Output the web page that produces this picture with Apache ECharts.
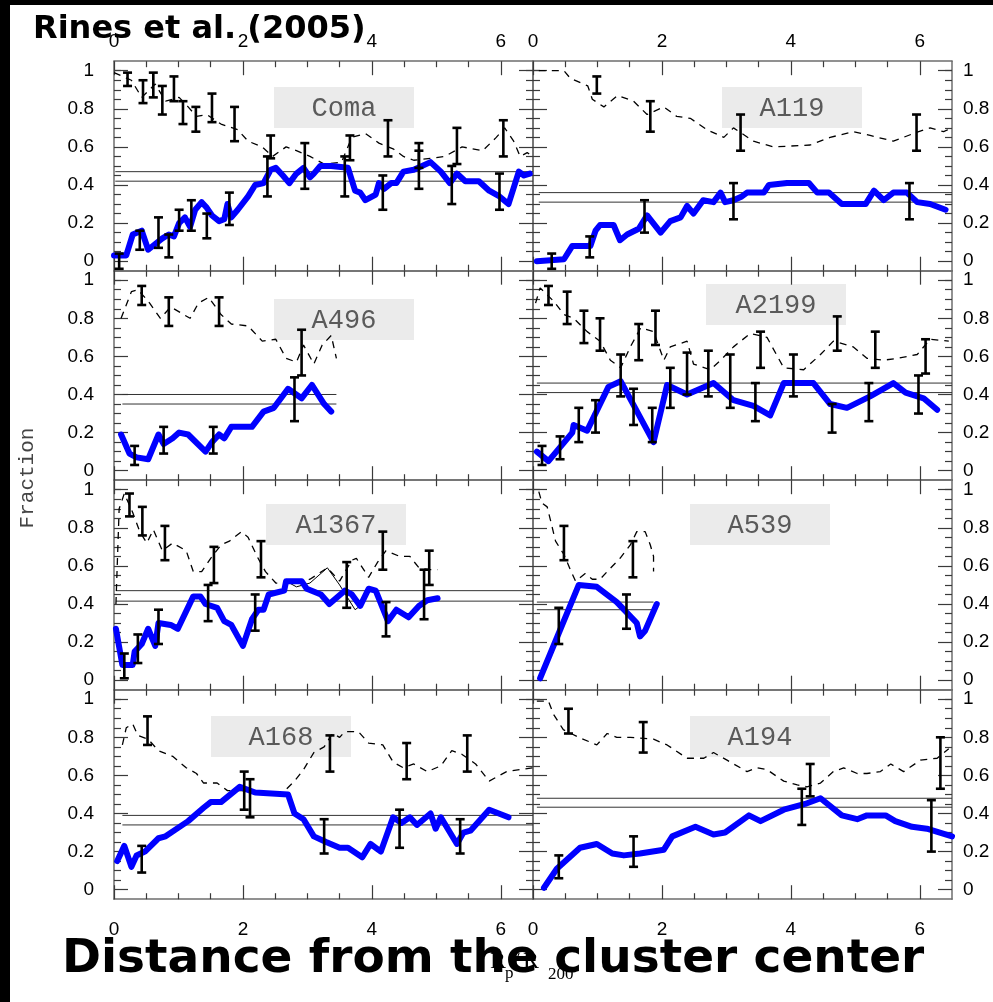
<!DOCTYPE html>
<html>
<head>
<meta charset="utf-8">
<script src="https://cdn.jsdelivr.net/npm/echarts@6/dist/echarts.min.js"></script>
<style>
  html, body { margin: 0; padding: 0; background: #fff; }
  #chart { width: 993px; height: 1002px; }
</style>
</head>
<body>
<div id="chart"></div>
<script>
// tick values
const xMajor = [0, 2, 4, 6]
const xMinor = [0.5, 1, 1.5, 2.5, 3, 3.5, 4.5, 5, 5.5]
const yMajor = [0, 0.2, 0.4, 0.6, 0.8, 1]
const yMinor = [0.05, 0.1, 0.15, 0.25, 0.3, 0.35, 0.45, 0.5, 0.55, 0.65, 0.7, 0.75, 0.85, 0.9, 0.95, 1.0001]

const panelNames = ['Coma', 'A119', 'A496', 'A2199', 'A1367', 'A539', 'A168', 'A194']

// ---- Coma
const comaFrac = [[0.00,0.03],[0.19,0.03],[0.29,0.14],[0.43,0.16],[0.53,0.06],[0.64,0.09],[0.75,0.12],[0.85,0.14],[0.93,0.13],[1.01,0.20],[1.10,0.23],[1.18,0.18],[1.26,0.27],[1.36,0.31],[1.44,0.28],[1.52,0.24],[1.63,0.21],[1.71,0.22],[1.76,0.30],[1.82,0.23],[1.92,0.27],[2.08,0.34],[2.19,0.40],[2.32,0.41],[2.43,0.48],[2.51,0.49],[2.62,0.45],[2.72,0.41],[2.83,0.46],[2.94,0.49],[3.04,0.44],[3.10,0.46],[3.20,0.50],[3.37,0.50],[3.63,0.49],[3.74,0.37],[3.82,0.36],[3.90,0.32],[4.06,0.35],[4.11,0.41],[4.19,0.38],[4.30,0.41],[4.38,0.41],[4.49,0.47],[4.65,0.48],[4.91,0.52],[5.07,0.47],[5.21,0.41],[5.32,0.46],[5.45,0.42],[5.66,0.42],[5.82,0.37],[5.98,0.34],[6.12,0.30],[6.28,0.47],[6.36,0.45],[6.45,0.46]]
const comaDash = [[0.00,0.99],[0.27,0.95],[0.43,0.86],[0.64,0.93],[0.80,0.84],[1.01,0.86],[1.15,0.81],[1.28,0.76],[1.44,0.77],[1.66,0.72],[1.92,0.69],[2.08,0.63],[2.30,0.60],[2.46,0.55],[2.67,0.60],[2.83,0.58],[3.04,0.55],[3.26,0.51],[3.53,0.52],[3.69,0.65],[3.90,0.67],[4.11,0.62],[4.33,0.59],[4.49,0.55],[4.65,0.53],[4.91,0.54],[5.13,0.55],[5.40,0.60],[5.72,0.58],[5.93,0.65],[6.06,0.70],[6.20,0.63],[6.30,0.55],[6.41,0.57],[6.50,0.55]]
const comaDashErr = [[0.21,0.92,0.99],[0.45,0.83,0.95],[0.61,0.86,0.99],[0.75,0.77,0.92],[0.93,0.84,0.97],[1.07,0.72,0.84],[1.27,0.68,0.81],[1.52,0.73,0.88],[1.87,0.63,0.81],[2.43,0.54,0.66],[3.66,0.53,0.66],[4.25,0.55,0.74],[4.73,0.49,0.62],[5.32,0.51,0.70],[6.04,0.55,0.74]]
const comaErr = [[0.08,-0.04,0.04],[0.40,0.06,0.16],[0.69,0.07,0.23],[0.85,0.02,0.14],[1.01,0.16,0.27],[1.20,0.16,0.32],[1.44,0.12,0.25],[1.79,0.19,0.36],[2.38,0.34,0.55],[2.96,0.38,0.62],[3.58,0.34,0.55],[4.17,0.27,0.45],[4.73,0.38,0.58],[5.24,0.30,0.50],[5.98,0.27,0.46]]
const comaRef = [0.47, 0.42]
const comaSpan = [0.02, 6.5]

// ---- A119
const a119Frac = [[0.06,0.00],[0.48,0.01],[0.61,0.08],[0.89,0.08],[0.97,0.16],[1.04,0.19],[1.25,0.19],[1.35,0.11],[1.46,0.14],[1.64,0.17],[1.77,0.24],[1.98,0.15],[2.13,0.21],[2.29,0.23],[2.39,0.29],[2.49,0.25],[2.64,0.32],[2.80,0.31],[2.91,0.36],[2.98,0.31],[3.11,0.32],[3.24,0.34],[3.32,0.36],[3.58,0.36],[3.66,0.40],[3.94,0.41],[4.28,0.41],[4.41,0.36],[4.59,0.36],[4.79,0.30],[5.16,0.30],[5.29,0.37],[5.44,0.32],[5.59,0.36],[5.80,0.36],[5.96,0.31],[6.16,0.30],[6.40,0.27]]
const a119Dash = [[0.09,1.00],[0.48,1.00],[0.58,0.96],[0.85,0.92],[0.92,0.85],[1.10,0.81],[1.31,0.87],[1.56,0.84],[1.77,0.77],[2.03,0.81],[2.23,0.76],[2.44,0.75],[2.70,0.69],[2.96,0.65],[3.11,0.70],[3.42,0.63],[3.73,0.60],[4.30,0.61],[4.61,0.65],[4.97,0.68],[5.23,0.66],[5.59,0.63],[5.90,0.67],[6.16,0.70],[6.37,0.68],[6.50,0.70]]
const a119DashErr = [[0.99,0.88,0.97],[1.82,0.68,0.84],[3.22,0.58,0.77],[5.95,0.58,0.77]]
const a119Err = [[0.29,-0.04,0.04],[0.88,0.02,0.13],[1.73,0.15,0.32],[3.11,0.22,0.41],[5.84,0.22,0.41]]
const a119Ref = [0.36, 0.31]
const a119Span = [0.09, 6.5]

// ---- A496
const a496Frac = [[0.11,0.19],[0.24,0.09],[0.35,0.07],[0.53,0.06],[0.69,0.19],[0.77,0.14],[0.91,0.17],[1.01,0.20],[1.15,0.19],[1.42,0.10],[1.52,0.15],[1.63,0.19],[1.71,0.17],[1.82,0.23],[2.14,0.23],[2.32,0.31],[2.48,0.33],[2.70,0.43],[2.91,0.38],[3.07,0.45],[3.26,0.35],[3.37,0.31]]
const a496Dash = [[0.11,0.80],[0.27,0.94],[0.37,0.95],[0.53,0.89],[0.72,0.80],[0.88,0.86],[1.18,0.80],[1.31,0.88],[1.47,0.91],[1.66,0.82],[1.82,0.77],[2.08,0.76],[2.30,0.68],[2.51,0.69],[2.67,0.59],[2.83,0.57],[2.94,0.66],[3.10,0.56],[3.23,0.66],[3.37,0.71],[3.45,0.59]]
const a496DashErr = [[0.43,0.87,0.97],[0.85,0.76,0.91],[1.63,0.76,0.91],[2.91,0.50,0.74]]
const a496Err = [[0.32,0.03,0.13],[0.77,0.09,0.23],[1.54,0.09,0.23],[2.80,0.26,0.49]]
const a496Ref = [0.40, 0.35]
const a496Span = [0.13, 3.45]

// ---- A2199
const a2199Frac = [[0.06,0.10],[0.24,0.05],[0.61,0.20],[0.63,0.24],[0.84,0.21],[1.17,0.44],[1.36,0.47],[1.87,0.15],[2.08,0.45],[2.39,0.40],[2.80,0.46],[3.11,0.37],[3.42,0.34],[3.68,0.29],[3.89,0.46],[4.35,0.46],[4.61,0.35],[4.87,0.33],[5.23,0.39],[5.59,0.46],[5.78,0.41],[6.06,0.38],[6.27,0.32]]
const a2199Dash = [[0.04,0.88],[0.11,0.96],[0.32,0.89],[0.48,0.82],[0.63,0.80],[0.84,0.73],[1.04,0.68],[1.20,0.58],[1.36,0.54],[1.51,0.65],[1.67,0.75],[1.87,0.73],[2.03,0.58],[2.13,0.65],[2.39,0.68],[2.49,0.56],[2.75,0.53],[2.91,0.58],[3.11,0.65],[3.37,0.72],[3.63,0.70],[3.89,0.54],[4.20,0.53],[4.46,0.61],[4.66,0.68],[4.97,0.65],[5.18,0.59],[5.44,0.58],[5.65,0.59],[5.96,0.61],[6.16,0.69],[6.45,0.68]]
const a2199DashErr = [[0.24,0.87,0.97],[0.53,0.77,0.94],[0.79,0.67,0.84],[1.04,0.63,0.80],[1.64,0.58,0.77],[1.90,0.66,0.84],[3.53,0.54,0.73],[4.72,0.63,0.81],[5.31,0.54,0.73],[6.09,0.51,0.69]]
const a2199Err = [[0.14,0.03,0.13],[0.42,0.06,0.18],[0.71,0.15,0.33],[0.97,0.20,0.37],[1.36,0.39,0.61],[1.56,0.24,0.43],[1.85,0.15,0.33],[2.13,0.33,0.54],[2.39,0.40,0.62],[2.72,0.39,0.63],[3.06,0.33,0.61],[3.45,0.26,0.46],[4.04,0.39,0.61],[4.64,0.20,0.35],[5.21,0.26,0.46],[5.98,0.30,0.50]]
const a2199Ref = [0.46, 0.41]
const a2199Span = [0.06, 6.5]

// ---- A1367
const a1367Frac = [[0.03,0.27],[0.13,0.08],[0.29,0.08],[0.32,0.15],[0.43,0.19],[0.53,0.27],[0.64,0.18],[0.69,0.30],[0.88,0.29],[0.99,0.27],[1.23,0.44],[1.34,0.44],[1.42,0.40],[1.60,0.38],[1.71,0.31],[1.82,0.29],[2.00,0.18],[2.14,0.32],[2.24,0.37],[2.32,0.37],[2.40,0.45],[2.64,0.47],[2.67,0.52],[2.91,0.52],[2.99,0.48],[3.21,0.45],[3.34,0.40],[3.58,0.47],[3.69,0.45],[3.82,0.39],[3.95,0.48],[4.06,0.47],[4.25,0.31],[4.38,0.37],[4.57,0.33],[4.73,0.39],[4.86,0.42],[5.02,0.43]]
const a1367Thin = [[2.67,0.52],[2.83,0.49],[3.04,0.51],[3.31,0.59],[3.50,0.50],[3.74,0.37],[3.82,0.39]]
const a1367Dash = [[0.03,0.40],[0.08,0.90],[0.16,0.98],[0.29,0.88],[0.40,0.78],[0.51,0.72],[0.61,0.79],[0.75,0.68],[0.91,0.72],[1.12,0.68],[1.23,0.57],[1.36,0.57],[1.50,0.64],[1.66,0.71],[1.79,0.73],[1.98,0.78],[2.08,0.75],[2.22,0.65],[2.35,0.57],[2.51,0.51],[2.83,0.51],[3.04,0.53],[3.31,0.59],[3.50,0.52],[3.69,0.63],[3.76,0.64],[3.95,0.54],[4.09,0.62],[4.22,0.68],[4.43,0.65],[4.59,0.65],[4.73,0.59],[4.89,0.58],[5.02,0.58]]
const a1367DashErr = [[0.24,0.86,0.98],[0.44,0.76,0.91],[0.79,0.63,0.81],[1.55,0.51,0.70],[2.28,0.54,0.73],[4.17,0.58,0.78],[4.89,0.50,0.68]]
const a1367Err = [[0.16,0.01,0.14],[0.37,0.09,0.24],[0.69,0.19,0.37],[1.46,0.31,0.50],[2.19,0.26,0.45],[3.61,0.38,0.62],[4.22,0.23,0.41],[4.81,0.32,0.58]]
const a1367Ref = [0.47, 0.415]
const a1367Span = [0.03, 6.5]

// ---- A539
const a539Frac = [[0.11,0.01],[0.71,0.50],[0.99,0.49],[1.30,0.41],[1.61,0.30],[1.66,0.23],[1.74,0.26],[1.92,0.40]]
const a539Dash = [[0.09,0.99],[0.14,0.93],[0.22,0.91],[0.30,0.80],[0.35,0.73],[0.48,0.66],[0.58,0.58],[0.66,0.52],[0.81,0.56],[0.92,0.53],[1.04,0.53],[1.15,0.57],[1.35,0.64],[1.51,0.71],[1.61,0.78],[1.74,0.78],[1.82,0.71],[1.87,0.65],[1.87,0.57]]
const a539DashErr = [[0.48,0.63,0.81],[1.55,0.54,0.73]]
const a539Err = [[0.40,0.19,0.38],[1.45,0.27,0.45]]
const a539Ref = [0.41, 0.37]
const a539Span = [0.06, 1.87]

// ---- A168
const a168Frac = [[0.05,0.15],[0.16,0.23],[0.27,0.12],[0.35,0.18],[0.48,0.20],[0.69,0.27],[0.80,0.28],[1.15,0.36],[1.39,0.43],[1.50,0.46],[1.66,0.46],[1.95,0.54],[2.19,0.51],[2.70,0.50],[2.80,0.40],[2.94,0.37],[3.10,0.28],[3.29,0.25],[3.50,0.22],[3.63,0.22],[3.85,0.17],[3.98,0.24],[4.14,0.20],[4.33,0.38],[4.46,0.35],[4.59,0.38],[4.70,0.34],[4.91,0.40],[4.99,0.32],[5.07,0.38],[5.32,0.24],[5.42,0.30],[5.53,0.31],[5.82,0.42],[6.12,0.38]]
const a168Dash = [[0.13,0.76],[0.19,0.85],[0.29,0.87],[0.37,0.81],[0.53,0.79],[0.69,0.73],[0.91,0.70],[1.12,0.64],[1.28,0.61],[1.39,0.56],[1.60,0.56],[1.76,0.52],[1.98,0.52],[2.35,0.51],[2.62,0.51],[2.80,0.57],[2.94,0.63],[3.10,0.72],[3.26,0.75],[3.39,0.82],[3.50,0.80],[3.58,0.83],[3.79,0.83],[3.95,0.77],[4.17,0.76],[4.33,0.67],[4.49,0.64],[4.65,0.66],[4.86,0.62],[5.07,0.65],[5.24,0.73],[5.40,0.71],[5.61,0.66],[5.82,0.57],[6.09,0.62],[6.49,0.64]]
const a168DashErr = [[0.52,0.76,0.91],[3.35,0.62,0.81],[4.54,0.58,0.77],[5.48,0.62,0.81]]
const a168Err = [[0.43,0.09,0.23],[2.02,0.42,0.62],[2.11,0.38,0.58],[3.26,0.19,0.37],[4.43,0.22,0.42],[5.37,0.19,0.37]]
const a168Ref = [0.39, 0.34]
const a168Span = [0.13, 6.5]

// ---- A194
const a194Frac = [[0.17,0.01],[0.37,0.11],[0.73,0.22],[0.99,0.24],[1.23,0.19],[1.41,0.18],[1.66,0.19],[2.03,0.21],[2.16,0.28],[2.52,0.33],[2.80,0.29],[2.98,0.30],[3.35,0.39],[3.53,0.36],[3.89,0.42],[4.22,0.45],[4.46,0.48],[4.79,0.39],[5.03,0.37],[5.18,0.39],[5.47,0.39],[5.62,0.36],[5.88,0.33],[6.11,0.32],[6.50,0.28]]
const a194Dash = [[0.06,0.99],[0.24,0.99],[0.32,0.92],[0.47,0.84],[0.71,0.80],[0.99,0.76],[1.15,0.82],[1.30,0.80],[1.51,0.80],[1.87,0.79],[2.08,0.76],[2.39,0.69],[2.65,0.69],[2.80,0.72],[3.01,0.68],[3.32,0.62],[3.47,0.64],[3.63,0.63],[3.89,0.57],[4.10,0.55],[4.25,0.54],[4.46,0.56],[4.66,0.62],[4.82,0.64],[5.03,0.61],[5.18,0.61],[5.39,0.62],[5.55,0.66],[5.75,0.62],[6.01,0.68],[6.27,0.69],[6.45,0.74]]
const a194DashErr = [[0.55,0.82,0.95],[1.71,0.72,0.88],[4.30,0.49,0.66],[6.32,0.53,0.80]]
const a194Err = [[0.40,0.06,0.18],[1.56,0.12,0.28],[4.17,0.34,0.53],[6.18,0.20,0.47]]
const a194Ref = [0.48, 0.433]
const a194Span = [0.06, 6.5]

const panels = [
    {frac: comaFrac, dash: comaDash, dashErr: comaDashErr, err: comaErr, ref: comaRef, span: comaSpan},
    {frac: a119Frac, dash: a119Dash, dashErr: a119DashErr, err: a119Err, ref: a119Ref, span: a119Span},
    {frac: a496Frac, dash: a496Dash, dashErr: a496DashErr, err: a496Err, ref: a496Ref, span: a496Span},
    {frac: a2199Frac, dash: a2199Dash, dashErr: a2199DashErr, err: a2199Err, ref: a2199Ref, span: a2199Span},
    {frac: a1367Frac, dash: a1367Dash, dashErr: a1367DashErr, err: a1367Err, ref: a1367Ref, span: a1367Span, thin: a1367Thin},
    {frac: a539Frac, dash: a539Dash, dashErr: a539DashErr, err: a539Err, ref: a539Ref, span: a539Span},
    {frac: a168Frac, dash: a168Dash, dashErr: a168DashErr, err: a168Err, ref: a168Ref, span: a168Span},
    {frac: a194Frac, dash: a194Dash, dashErr: a194DashErr, err: a194Err, ref: a194Ref, span: a194Span}
]

// layout
const colLeft = [114, 533]
const rowTop = [61.2, 270.7, 480.2, 689.7]
const gridW = 419
const gridH = 209.5
// label box top-left corners
const boxPos = [[274, 87], [722, 87], [274, 299], [706, 284], [266, 504], [690, 504], [211, 716], [690, 716]]

const frameColor = '#6e6e6e'
const tickColor = '#3a3a3a'
const tickFont = 'Liberation Sans'

function xAx(g, pos, major, showLabel, margin) {
    return {
        type: 'value', gridIndex: g, position: pos, min: 0, max: 6.5,
        axisLine: {show: major, onZero: false, lineStyle: {color: frameColor, width: 1.5}},
        axisTick: {show: true, inside: true, length: major ? 14 : 6, customValues: major ? xMajor : xMinor,
            lineStyle: {color: tickColor, width: 1.2}},
        axisLabel: {show: showLabel, customValues: xMajor, margin: margin, fontSize: 19,
            fontFamily: tickFont, color: '#000'},
        splitLine: {show: false}
    }
}

function yAx(g, pos, major, showLabel, margin) {
    return {
        type: 'value', gridIndex: g, position: pos, min: -0.05, max: 1.05,
        axisLine: {show: major, onZero: false, lineStyle: {color: frameColor, width: 1.5}},
        axisTick: {show: true, inside: true, length: major ? 14 : 7, customValues: major ? yMajor : yMinor,
            lineStyle: {color: tickColor, width: 1.2}},
        axisLabel: {show: showLabel, customValues: yMajor, margin: margin, fontSize: 19,
            fontFamily: tickFont, color: '#000', padding: [8, 0, 0, 0]},
        splitLine: {show: false}
    }
}

// error bar glyph
function errBar(params, api) {
    const x = api.value(0)
    const lo = api.coord([x, api.value(1)])
    const hi = api.coord([x, api.value(2)])
    const w = 4.5
    const st = {stroke: '#000', lineWidth: 2.6}
    return {
        type: 'group',
        children: [
            {type: 'line', shape: {x1: lo[0], y1: lo[1], x2: hi[0], y2: hi[1]}, style: st},
            {type: 'line', shape: {x1: lo[0] - w, y1: lo[1], x2: lo[0] + w, y2: lo[1]}, style: st},
            {type: 'line', shape: {x1: hi[0] - w, y1: hi[1], x2: hi[0] + w, y2: hi[1]}, style: st}
        ]
    }
}

const grids = [], xAxes = [], yAxes = [], series = [], graphics = []

panels.forEach((p, g) => {
    const row = Math.floor(g / 2), col = g % 2
    grids.push({left: colLeft[col], top: rowTop[row], width: gridW, height: gridH})

    xAxes.push(xAx(g, 'bottom', true, row === 3, 21))
    xAxes.push(xAx(g, 'bottom', false, false, 0))
    xAxes.push(xAx(g, 'top', true, row === 0, 10))
    xAxes.push(xAx(g, 'top', false, false, 0))

    yAxes.push(yAx(g, 'left', true, col === 0, 20))
    yAxes.push(yAx(g, 'left', false, false, 0))
    yAxes.push(yAx(g, 'right', true, col === 1, 11))
    yAxes.push(yAx(g, 'right', false, false, 0))

    const ax = {xAxisIndex: 4 * g, yAxisIndex: 4 * g}

    // reference levels
    p.ref.forEach(v => {
        series.push(Object.assign({
            type: 'line', data: [[p.span[0], v], [p.span[1], v]], symbol: 'none', z: 2,
            lineStyle: {color: '#333', width: 1}
        }, ax))
    })
    // dashed profile
    series.push(Object.assign({
        type: 'line', data: p.dash, symbol: 'none', z: 2,
        lineStyle: {color: '#000', width: 1.3, type: [7, 6]}
    }, ax))
    if (p.thin) {
        series.push(Object.assign({
            type: 'line', data: p.thin, symbol: 'none', z: 2,
            lineStyle: {color: '#000', width: 1}
        }, ax))
    }
    // blue fraction
    series.push(Object.assign({
        type: 'line', data: p.frac, symbol: 'none', z: 3,
        lineStyle: {color: '#0000ff', width: 6, cap: 'round', join: 'round'}
    }, ax))
    // error bars
    series.push(Object.assign({
        type: 'custom', data: p.dashErr.concat(p.err), renderItem: errBar, z: 4,
        encode: {x: 0, y: [1, 2]}
    }, ax))

    // name box
    graphics.push({
        type: 'rect', x: boxPos[g][0], y: boxPos[g][1], z: 0,
        shape: {width: 140, height: 41}, style: {fill: '#ebebeb'}
    })
    graphics.push({
        type: 'text', x: boxPos[g][0] + 70, y: boxPos[g][1] + 22, z: 1,
        style: {text: panelNames[g], font: '27px "Liberation Mono"', fill: '#5a5a5a',
            textAlign: 'center', textVerticalAlign: 'middle'}
    })
})

// frame of the page and labels
graphics.push({type: 'rect', x: 0, y: 0, z: 50, shape: {width: 10, height: 1002}, style: {fill: '#000'}})
graphics.push({type: 'rect', x: 0, y: 0, z: 50, shape: {width: 993, height: 5}, style: {fill: '#000'}})
graphics.push({
    type: 'text', x: 27, y: 478, rotation: Math.PI / 2, z: 10,
    style: {text: 'Fraction', font: '21px "Liberation Mono"', fill: '#444',
        textAlign: 'center', textVerticalAlign: 'middle'}
})
graphics.push({type: 'text', x: 490, y: 962, z: 10,
    style: {text: 'R', font: '24px "Liberation Serif"', fill: '#000', textVerticalAlign: 'middle'}})
graphics.push({type: 'text', x: 505, y: 974, z: 10,
    style: {text: 'p', font: '17px "Liberation Serif"', fill: '#000', textVerticalAlign: 'middle'}})
graphics.push({type: 'text', x: 513, y: 962, z: 10,
    style: {text: '/', font: '24px "Liberation Serif"', fill: '#000', textVerticalAlign: 'middle'}})
graphics.push({type: 'text', x: 523, y: 962, z: 10,
    style: {text: 'R', font: '24px "Liberation Serif"', fill: '#000', textVerticalAlign: 'middle'}})
graphics.push({type: 'text', x: 548, y: 975, z: 10,
    style: {text: '200', font: '17px "Liberation Serif"', fill: '#000', textVerticalAlign: 'middle'}})
graphics.push({
    type: 'text', x: 33, y: 30, z: 60,
    style: {text: 'Rines et al. (2005)', font: 'bold 32px "DejaVu Sans"', fill: '#000',
        textVerticalAlign: 'middle'}
})
graphics.push({
    type: 'text', x: 62, y: 960, z: 60,
    style: {text: 'Distance from the cluster center', font: 'bold 47px "DejaVu Sans"', fill: '#000',
        textVerticalAlign: 'middle'}
})

const chart = echarts.init(document.getElementById('chart'), null, {renderer: 'canvas'})
chart.setOption({
    backgroundColor: '#fff',
    animation: false,
    grid: grids,
    xAxis: xAxes,
    yAxis: yAxes,
    series: series,
    graphic: {elements: graphics}
})
</script>
</body>
</html>
